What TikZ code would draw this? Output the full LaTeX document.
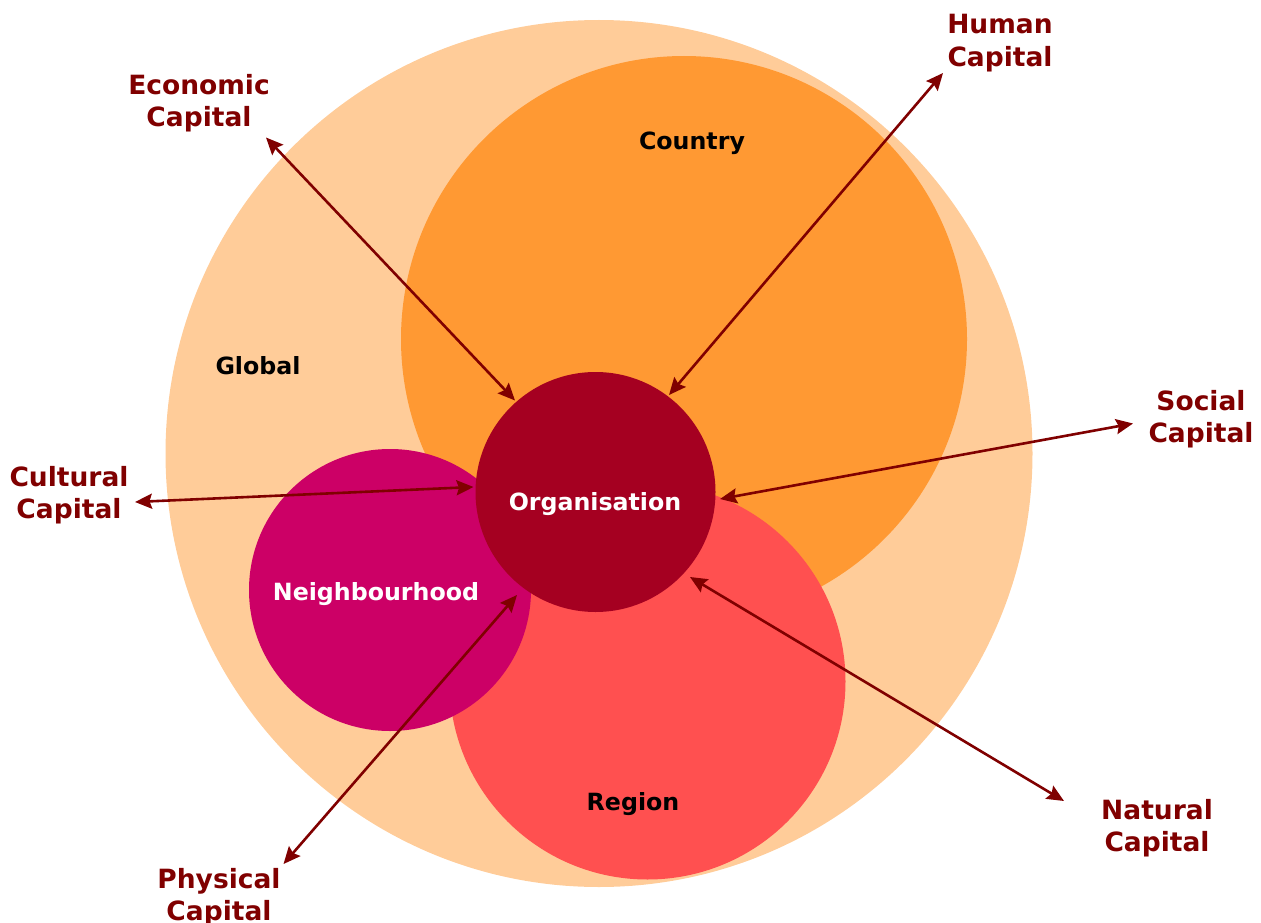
\documentclass[tikz,border=0pt]{standalone}
\usepackage{fontspec}
\setmainfont{DejaVu Sans}
\usetikzlibrary{arrows.meta}
\definecolor{globalc}{HTML}{FFCC99}
\definecolor{countryc}{HTML}{FF9933}
\definecolor{regionc}{HTML}{FF5050}
\definecolor{neighc}{HTML}{CC0066}
\definecolor{orgc}{HTML}{A50021}
\definecolor{capc}{HTML}{800000}
\tikzset{
  zone/.style={circle,inner sep=0pt,minimum size=#1},
  zonetext/.style={font=\fontsize{23.7}{28}\selectfont\bfseries,inner sep=0pt},
  captext/.style={font=\fontsize{26.5}{32.5}\selectfont\bfseries,text=capc,align=center,inner sep=0pt},
  link/.style={draw=capc,line width=2.6pt,{Stealth[length=17pt,width=15pt,inset=2.5pt]}-{Stealth[length=17pt,width=15pt,inset=2.5pt]}}
}
\begin{document}
\begin{tikzpicture}[x=1pt,y=-1pt]
\useasboundingbox (0,0) rectangle (1261,923);
% circles
\node[zone=867,fill=globalc] (global) at (599,453.5) {};
\node[zone=566,fill=countryc] (country) at (684,339) {};
\node[zone=396,fill=regionc] (region) at (647.5,681.5) {};
\node[zone=282,fill=neighc] (neigh) at (390,590) {};
\node[zone=240,fill=orgc] (org) at (595.5,492) {};
% zone labels
\node[zonetext] (globallbl) at (258,366) {Global};
\node[zonetext] (countrylbl) at (692,143) {Country};
\node[zonetext] (regionlbl) at (633,804) {Region};
\node[zonetext,text=white] (neighlbl) at (376,594) {Neighbourhood};
\node[zonetext,text=white] (orglbl) at (595,504) {Organisation};
% capital labels
\node[captext] (econ) at (199,103) {Economic\\Capital};
\node[captext] (human) at (1000,43) {Human\\Capital};
\node[captext] (social) at (1201,419) {Social\\Capital};
\node[captext] (cultural) at (69,495) {Cultural\\Capital};
\node[captext] (natural) at (1157,828) {Natural\\Capital};
\node[captext] (physical) at (219,897) {Physical\\Capital};
% arrow ends
\coordinate (econout) at (266,137.5);
\coordinate (econin) at (515,400.5);
\coordinate (humanout) at (943,73);
\coordinate (humanin) at (669,395);
\coordinate (socialout) at (1133,423.5);
\coordinate (socialin) at (720,499);
\coordinate (naturalout) at (1064,801);
\coordinate (naturalin) at (690,577);
\coordinate (physout) at (283.5,864);
\coordinate (physin) at (517,595);
\coordinate (cultout) at (135,502);
\coordinate (cultin) at (473.5,487);
\draw[link] (econout) -- (econin);
\draw[link] (humanout) -- (humanin);
\draw[link] (socialout) -- (socialin);
\draw[link] (naturalout) -- (naturalin);
\draw[link] (physout) -- (physin);
\draw[link] (cultout) -- (cultin);
\end{tikzpicture}
\end{document}
